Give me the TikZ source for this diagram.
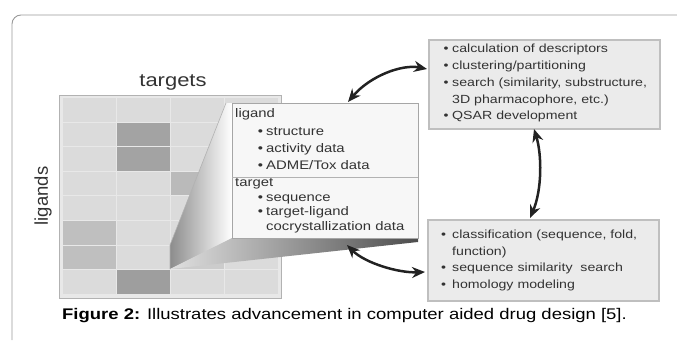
\documentclass[tikz,border=0pt]{standalone}
\usepackage{fontspec}
\setmainfont{Liberation Sans}[FakeStretch=1.2]
\newfontfamily\plainsans{Liberation Sans}
\usetikzlibrary{arrows.meta}
\definecolor{txt}{HTML}{333333}
\definecolor{arr}{HTML}{222222}
\newcommand\bulA[1]{\makebox[0pt][r]{\textbullet\hspace{#1}}}
\tikzset{
  boxR/.style={draw=black!25, line width=2pt, fill=black!8, inner sep=0pt, anchor=north west},
  callbox/.style={draw=black!35, line width=1.2pt, fill=black!3, inner sep=0pt, anchor=north west},
  lineR/.style={anchor=mid west, inner sep=0pt, font=\fontsize{11.8}{13}\selectfont, text=txt},
  lineC/.style={anchor=mid west, inner sep=0pt, font=\fontsize{12.4}{13}\selectfont, text=txt},
  dbl/.style={line width=2.5pt, draw=arr, {Stealth[length=13pt,width=11pt]}-{Stealth[length=13pt,width=11pt]}},
}
\begin{document}
\begin{tikzpicture}[x=1pt,y=-1pt]
\useasboundingbox (0,0) rectangle (677,340);
% outer frame
\draw[black!40, line width=0.9pt, rounded corners=9pt] (12,340) -- (12,15) -- (677,15);
% labels
\node[font=\fontsize{18.3}{20}\selectfont, text=txt] (targets) at (173,82) {targets};
\node[font=\plainsans\fontsize{18.5}{20}\selectfont, text=txt, rotate=90] (ligands) at (43,196) {ligands};
% grid
\draw[black!30, line width=1pt, fill=black!9] (59,95) rectangle (281,298);
\foreach \c in {0,...,3}{
  \foreach \r in {0,...,7}{
    \fill[black!14, draw=black!9, line width=1pt] ({62+54.1*\c},{97.5+24.6*\r}) rectangle ++(54.1,24.6);
  }
}
\foreach \c/\r/\s in {1/1/36,1/2/36,1/7/38,0/5/25,0/6/25,2/3/27,2/6/20}{
  \fill[black!\s, draw=black!9, line width=1pt] ({62+54.1*\c},{97.5+24.6*\r}) rectangle ++(54.1,24.6);
}
% callout wedge
\shade[left color=black!45, right color=white] (170,245) -- (226,103) -- (232,103) -- (232,238) -- (170,269) -- cycle;
\draw[black!30, line width=0.6pt] (170,269) -- (170,245) -- (226,103);
\shade[left color=black!12, right color=black!70] (170,269) -- (232,238) -- (418,238) -- (418,242) -- cycle;
% callout box
\node[callbox, minimum width=186pt, minimum height=135pt] (lig) at (232,103) {};
\draw[black!30, line width=1pt] (232,177) -- (418,177);
\node[lineC] (l1) at (235,115) {ligand};
\node[lineC] (l2) at (266,133) {\bulA{3pt}structure};
\node[lineC] (l3) at (266,150) {\bulA{3pt}activity data};
\node[lineC] (l4) at (266,167) {\bulA{3pt}ADME/Tox data};
\node[lineC] (l5) at (235,184) {target};
\node[lineC] (l6) at (266,199) {\bulA{3pt}sequence};
\node[lineC] (l7) at (266,213) {\bulA{3pt}target-ligand};
\node[lineC] (l8) at (266,228) {cocrystallization data};
% top right box
\node[boxR, minimum width=231pt, minimum height=89pt] (desc) at (428,39) {};
\node[lineR] (d1) at (452,50) {\bulA{3.5pt}calculation of descriptors};
\node[lineR] (d2) at (452,67) {\bulA{3.5pt}clustering/partitioning};
\node[lineR] (d3) at (452,84) {\bulA{3.5pt}search (similarity, substructure,};
\node[lineR] (d4) at (452,101) {3D pharmacophore, etc.)};
\node[lineR] (d5) at (452,117) {\bulA{3.5pt}QSAR development};
% bottom right box
\node[boxR, minimum width=231pt, minimum height=81pt] (cls) at (427,219) {};
\node[lineR] (c1) at (452,236) {\bulA{6pt}classification (sequence, fold,};
\node[lineR] (c2) at (452,253) {function)};
\node[lineR] (c3) at (452,269) {\bulA{6pt}sequence similarity\ \ search};
\node[lineR] (c4) at (452,286) {\bulA{6pt}homology modeling};
% arrows
\coordinate (a1s) at (348,102);
\coordinate (a1e) at (427,69);
\coordinate (a2s) at (534,129);
\coordinate (a2e) at (530,218);
\coordinate (a3s) at (347,245);
\coordinate (a3e) at (425,272);
\draw[dbl] (a1s) .. controls (370,76) and (402,64) .. (a1e);
\draw[dbl] (a2s) .. controls (542,155) and (542,190) .. (a2e);
\draw[dbl] (a3s) .. controls (365,263) and (398,273) .. (a3e);
% caption
\node[anchor=west, inner sep=0pt, font=\fontsize{15.4}{17}\selectfont] (cap) at (62,316) {\textbf{Figure 2:} Illustrates advancement in computer aided drug design [5].};
\end{tikzpicture}
\end{document}
